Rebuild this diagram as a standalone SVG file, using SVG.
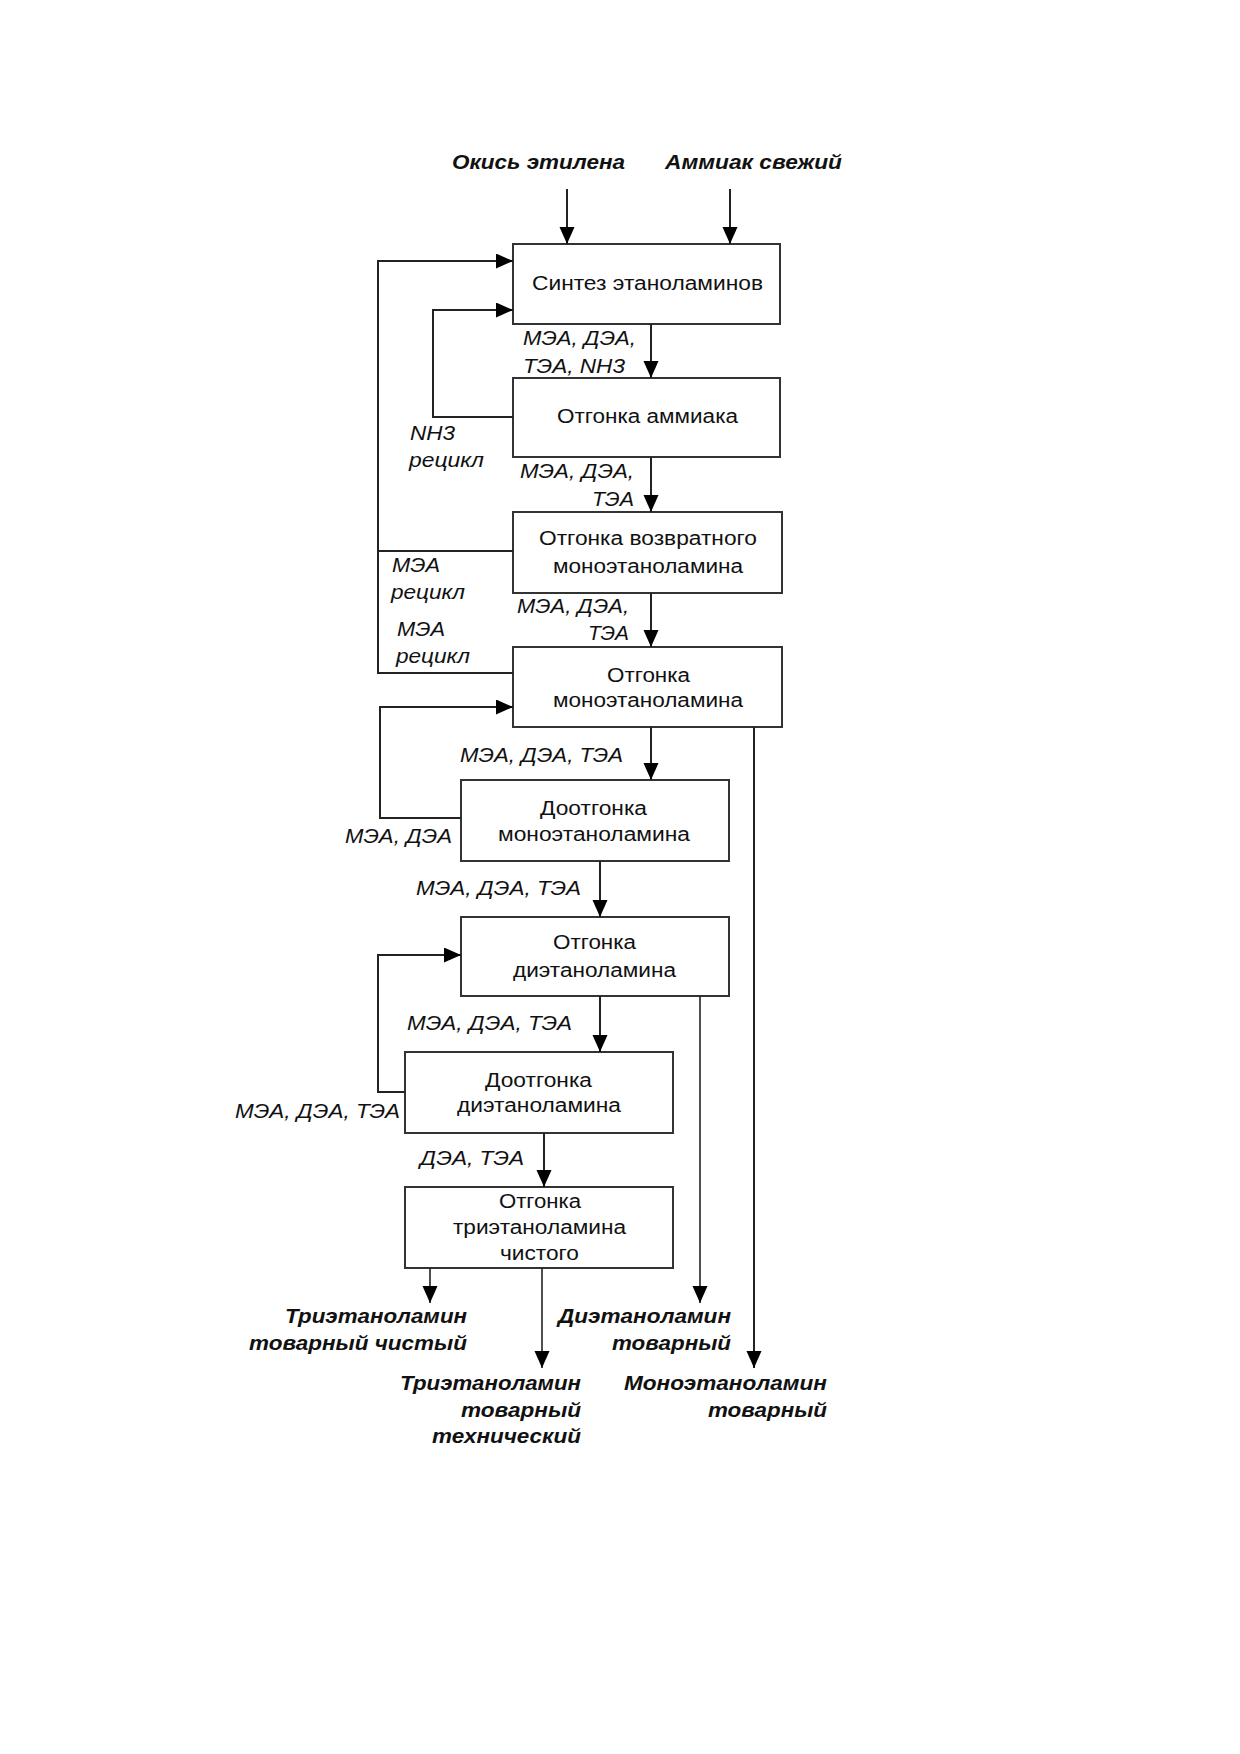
<svg xmlns="http://www.w3.org/2000/svg" width="1240" height="1754" viewBox="0 0 1240 1754">
<style>
.box{fill:#fff;stroke:#333;stroke-width:2}
.ln{fill:none;stroke:#222;stroke-width:2}
.lnt{fill:none;stroke:#222;stroke-width:1.6}
.t{font-family:"Liberation Sans",Arial,sans-serif;font-size:20px;fill:#111}
.i{font-family:"Liberation Sans",Arial,sans-serif;font-size:20px;font-style:italic;fill:#111}
.b{font-family:"Liberation Sans",Arial,sans-serif;font-size:20px;font-style:italic;font-weight:bold;fill:#111}
</style>
<defs>
<marker id="ah" markerUnits="userSpaceOnUse" markerWidth="18" markerHeight="16" refX="17" refY="7.5" orient="auto">
<path d="M0,0 L17,7.5 L0,15 z" fill="#000"/>
</marker>
</defs>
<rect width="1240" height="1754" fill="#fff"/>

<g id="inputs">
<text class="b" x="452" y="169" textLength="173" lengthAdjust="spacingAndGlyphs">Окись этилена</text>
<text class="b" x="665" y="169" textLength="177" lengthAdjust="spacingAndGlyphs">Аммиак свежий</text>
</g>

<g id="n1">
<rect class="box" x="513" y="244" width="267" height="80"/>
<text class="t" x="532" y="290" textLength="231" lengthAdjust="spacingAndGlyphs">Синтез этаноламинов</text>
</g>
<g id="n2">
<rect class="box" x="513" y="378" width="267" height="79"/>
<text class="t" x="557" y="423" textLength="181" lengthAdjust="spacingAndGlyphs">Отгонка аммиака</text>
</g>
<g id="n3">
<rect class="box" x="513" y="512" width="269" height="81"/>
<text class="t" x="539" y="545" textLength="218" lengthAdjust="spacingAndGlyphs">Отгонка возвратного</text>
<text class="t" x="553" y="573" textLength="190" lengthAdjust="spacingAndGlyphs">моноэтаноламина</text>
</g>
<g id="n4">
<rect class="box" x="513" y="647" width="269" height="80"/>
<text class="t" x="607" y="682" textLength="83" lengthAdjust="spacingAndGlyphs">Отгонка</text>
<text class="t" x="553" y="707" textLength="190" lengthAdjust="spacingAndGlyphs">моноэтаноламина</text>
</g>
<g id="n5">
<rect class="box" x="461" y="780" width="268" height="81"/>
<text class="t" x="540" y="815" textLength="107" lengthAdjust="spacingAndGlyphs">Доотгонка</text>
<text class="t" x="498" y="841" textLength="192" lengthAdjust="spacingAndGlyphs">моноэтаноламина</text>
</g>
<g id="n6">
<rect class="box" x="461" y="917" width="268" height="79"/>
<text class="t" x="553" y="949" textLength="83" lengthAdjust="spacingAndGlyphs">Отгонка</text>
<text class="t" x="513" y="977" textLength="163" lengthAdjust="spacingAndGlyphs">диэтаноламина</text>
</g>
<g id="n7">
<rect class="box" x="405" y="1052" width="268" height="81"/>
<text class="t" x="485" y="1087" textLength="107" lengthAdjust="spacingAndGlyphs">Доотгонка</text>
<text class="t" x="457" y="1112" textLength="164" lengthAdjust="spacingAndGlyphs">диэтаноламина</text>
</g>
<g id="n8">
<rect class="box" x="405" y="1187" width="268" height="81"/>
<text class="t" x="499" y="1208" textLength="82" lengthAdjust="spacingAndGlyphs">Отгонка</text>
<text class="t" x="453" y="1234" textLength="173" lengthAdjust="spacingAndGlyphs">триэтаноламина</text>
<text class="t" x="500" y="1260" textLength="79" lengthAdjust="spacingAndGlyphs">чистого</text>
</g>

<g id="outputs">
<text class="b" x="285" y="1323" textLength="182" lengthAdjust="spacingAndGlyphs">Триэтаноламин</text>
<text class="b" x="249" y="1350" textLength="218" lengthAdjust="spacingAndGlyphs">товарный чистый</text>
<text class="b" x="400" y="1390" textLength="181" lengthAdjust="spacingAndGlyphs">Триэтаноламин</text>
<text class="b" x="461" y="1417" textLength="120" lengthAdjust="spacingAndGlyphs">товарный</text>
<text class="b" x="432" y="1443" textLength="149" lengthAdjust="spacingAndGlyphs">технический</text>
<text class="b" x="558" y="1323" textLength="173" lengthAdjust="spacingAndGlyphs">Диэтаноламин</text>
<text class="b" x="612" y="1350" textLength="119" lengthAdjust="spacingAndGlyphs">товарный</text>
<text class="b" x="624" y="1390" textLength="203" lengthAdjust="spacingAndGlyphs">Моноэтаноламин</text>
<text class="b" x="708" y="1417" textLength="119" lengthAdjust="spacingAndGlyphs">товарный</text>
</g>

<g id="connectors">
<line class="ln" x1="567" y1="189" x2="567" y2="244" marker-end="url(#ah)"/>
<line class="ln" x1="730" y1="189" x2="730" y2="244" marker-end="url(#ah)"/>
<line class="ln" x1="651" y1="324" x2="651" y2="378" marker-end="url(#ah)"/>
<line class="ln" x1="651" y1="457" x2="651" y2="512" marker-end="url(#ah)"/>
<line class="ln" x1="651" y1="593" x2="651" y2="647" marker-end="url(#ah)"/>
<line class="ln" x1="651" y1="727" x2="651" y2="780" marker-end="url(#ah)"/>
<line class="ln" x1="600" y1="861" x2="600" y2="917" marker-end="url(#ah)"/>
<line class="ln" x1="600" y1="996" x2="600" y2="1052" marker-end="url(#ah)"/>
<line class="ln" x1="544" y1="1133" x2="544" y2="1187" marker-end="url(#ah)"/>
<line class="lnt" x1="430" y1="1268" x2="430" y2="1303" marker-end="url(#ah)"/>
<line class="lnt" x1="542" y1="1268" x2="542" y2="1368" marker-end="url(#ah)"/>
<line class="lnt" x1="700" y1="996" x2="700" y2="1303" marker-end="url(#ah)"/>
<line class="ln" x1="754" y1="727" x2="754" y2="1368" marker-end="url(#ah)"/>
<polyline class="ln" points="513,417 433,417 433,310 513,310" marker-end="url(#ah)"/>
<polyline class="ln" points="513,673 378,673 378,261 513,261" marker-end="url(#ah)"/>
<line class="ln" x1="513" y1="551" x2="378" y2="551"/>
<polyline class="ln" points="461,818 380,818 380,707 513,707" marker-end="url(#ah)"/>
<polyline class="ln" points="405,1092 378,1092 378,955 461,955" marker-end="url(#ah)"/>

<text class="i" x="523" y="345" textLength="113" lengthAdjust="spacingAndGlyphs">МЭА, ДЭА,</text>
<text class="i" x="523" y="373" textLength="102" lengthAdjust="spacingAndGlyphs">ТЭА, NH3</text>
<text class="i" x="410" y="440" textLength="45" lengthAdjust="spacingAndGlyphs">NH3</text>
<text class="i" x="409" y="467" textLength="75" lengthAdjust="spacingAndGlyphs">рецикл</text>
<text class="i" x="520" y="478" textLength="114" lengthAdjust="spacingAndGlyphs">МЭА, ДЭА,</text>
<text class="i" x="592" y="506" textLength="42" lengthAdjust="spacingAndGlyphs">ТЭА</text>
<text class="i" x="392" y="572" textLength="48" lengthAdjust="spacingAndGlyphs">МЭА</text>
<text class="i" x="391" y="599" textLength="74" lengthAdjust="spacingAndGlyphs">рецикл</text>
<text class="i" x="397" y="636" textLength="48" lengthAdjust="spacingAndGlyphs">МЭА</text>
<text class="i" x="396" y="663" textLength="74" lengthAdjust="spacingAndGlyphs">рецикл</text>
<text class="i" x="517" y="613" textLength="112" lengthAdjust="spacingAndGlyphs">МЭА, ДЭА,</text>
<text class="i" x="588" y="640" textLength="41" lengthAdjust="spacingAndGlyphs">ТЭА</text>
<text class="i" x="460" y="762" textLength="163" lengthAdjust="spacingAndGlyphs">МЭА, ДЭА, ТЭА</text>
<text class="i" x="345" y="843" textLength="107" lengthAdjust="spacingAndGlyphs">МЭА, ДЭА</text>
<text class="i" x="416" y="895" textLength="165" lengthAdjust="spacingAndGlyphs">МЭА, ДЭА, ТЭА</text>
<text class="i" x="407" y="1030" textLength="165" lengthAdjust="spacingAndGlyphs">МЭА, ДЭА, ТЭА</text>
<text class="i" x="235" y="1118" textLength="165" lengthAdjust="spacingAndGlyphs">МЭА, ДЭА, ТЭА</text>
<text class="i" x="420" y="1165" textLength="104" lengthAdjust="spacingAndGlyphs">ДЭА, ТЭА</text>
</g>
</svg>
